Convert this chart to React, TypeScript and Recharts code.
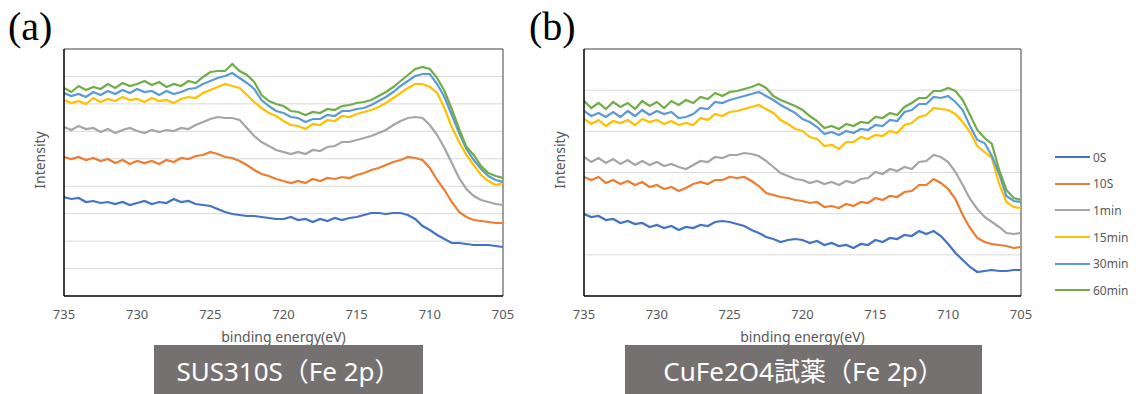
import React from 'react';
import { LineChart, Line, XAxis, YAxis, ReferenceLine, Legend } from 'recharts';

// binding energy (eV), categories along the x axis
const ENERGY = [
  735, 734.5, 734, 733.5, 733, 732.5, 732, 731.5, 731, 730.5,
  730, 729.5, 729, 728.5, 728, 727.5, 727, 726.5, 726, 725.5,
  725, 724.5, 724, 723.5, 723, 722.5, 722, 721.5, 721, 720.5,
  720, 719.5, 719, 718.5, 718, 717.5, 717, 716.5, 716, 715.5,
  715, 714.5, 714, 713.5, 713, 712.5, 712, 711.5, 711, 710.5,
  710, 709.5, 709, 708.5, 708, 707.5, 707, 706.5, 706, 705.5,
  705,
];

const SERIES_NAMES = ['0S', '10S', '1min', '15min', '30min', '60min'];
const SERIES_COLORS = ['#4472C4', '#ED7D31', '#A5A5A5', '#FFC000', '#5B9BD5', '#70AD47'];

const X_TICKS = [735, 730, 725, 720, 715, 710, 705];
const A_Y_TICKS = [0, 27.44, 54.89, 82.33, 109.78, 137.22, 164.67, 192.11, 219.56, 247];
const B_Y_TICKS = [0, 41.17, 82.33, 123.5, 164.67, 205.83, 247];
const Y_MAX = 247;

// (a) SUS310S (Fe 2p)
const A_0S = [
  99, 97, 98, 94, 95, 93, 94, 92, 94, 91,
  93, 95, 92, 94, 93, 97, 94, 95, 92, 91,
  90, 87, 84, 82, 81, 80, 80, 79, 78, 77,
  77, 79, 76, 77, 74, 77, 75, 78, 76, 78,
  79, 81, 83, 83, 82, 83, 83, 81, 77, 70,
  66, 61, 57, 53, 53, 52, 51, 51, 51, 50,
  49,
];
const A_10S = [
  139, 137, 139, 136, 138, 135, 137, 133, 136, 132,
  135, 133, 135, 132, 136, 134, 138, 137, 140, 141,
  144, 142, 139, 138, 135, 131, 126, 122, 120, 117,
  115, 113, 115, 113, 117, 115, 118, 117, 119, 118,
  121, 123, 126, 128, 131, 134, 136, 139, 138, 136,
  128, 116, 106, 94, 84, 79, 76, 75, 74, 73,
  73,
];
const A_1MIN = [
  169, 166, 170, 167, 168, 164, 167, 163, 166, 168,
  165, 163, 166, 164, 166, 165, 168, 167, 171, 174,
  177, 179, 178, 178, 176, 168, 160, 154, 150, 146,
  144, 142, 144, 142, 146, 145, 149, 150, 154, 154,
  156, 158, 160, 163, 166, 171, 175, 178, 179, 178,
  171, 161, 148, 133, 118, 107, 100, 96, 94, 92,
  91,
];
const A_15MIN = [
  196, 193, 195, 192, 198, 194, 197, 195, 199, 196,
  197, 194, 198, 195, 196, 193, 197, 199, 198, 203,
  206, 209, 212, 210, 208, 201, 194, 188, 183, 180,
  175, 171, 170, 167, 172, 171, 176, 175, 180, 179,
  182, 184, 186, 189, 193, 198, 203, 208, 212, 212,
  209, 203, 188, 169, 154, 141, 131, 121, 115, 111,
  113,
];
const A_30MIN = [
  203, 200, 202, 199, 204, 201, 205, 202, 206, 203,
  207, 204, 205, 201, 205, 202, 204, 207, 208, 212,
  215, 218, 220, 223, 218, 213, 207, 196, 190, 185,
  183, 179, 178, 174, 177, 177, 181, 180, 185, 185,
  187, 188, 191, 195, 199, 204, 210, 215, 220, 222,
  222, 212, 199, 181, 163, 147, 136, 127, 120, 116,
  114,
];
const A_60MIN = [
  208, 204, 210, 206, 209, 207, 212, 208, 213, 210,
  212, 215, 211, 214, 209, 212, 210, 215, 213, 219,
  224, 225, 225, 232, 225, 221, 214, 201, 195, 192,
  190, 185, 184, 181, 184, 183, 187, 186, 190, 191,
  193, 194, 196, 200, 204, 209, 215, 221, 227, 229,
  227, 218, 205, 187, 167, 149, 141, 130, 123, 120,
  118,
];

// (b) CuFe2O4 reagent (Fe 2p)
const B_0S = [
  82, 79, 80, 76, 77, 73, 75, 72, 73, 69,
  71, 68, 70, 66, 69, 68, 71, 70, 74, 75,
  74, 72, 70, 66, 63, 59, 57, 54, 56, 57,
  56, 53, 55, 51, 53, 50, 51, 48, 52, 51,
  56, 54, 58, 57, 61, 60, 65, 62, 65, 60,
  52, 43, 36, 29, 24, 25, 26, 25, 25, 26,
  26,
];
const B_10S = [
  119, 116, 119, 113, 116, 112, 115, 111, 114, 109,
  111, 107, 109, 105, 108, 112, 114, 112, 116, 116,
  119, 118, 119, 115, 110, 103, 101, 99, 98, 96,
  95, 93, 94, 89, 90, 88, 92, 90, 94, 93,
  98, 96, 100, 99, 104, 105, 111, 111, 117, 113,
  107, 97, 81, 68, 58, 54, 52, 51, 50, 48,
  49,
];
const B_1MIN = [
  139, 134, 138, 133, 137, 132, 136, 131, 135, 131,
  134, 130, 132, 129, 127, 131, 135, 134, 139, 138,
  141, 141, 143, 142, 140, 135, 129, 123, 120, 117,
  116, 113, 115, 112, 114, 111, 115, 113, 117, 118,
  124, 122, 127, 125, 129, 127, 134, 135, 141, 139,
  134, 124, 111, 97, 87, 79, 74, 69, 63, 62,
  63,
];
const B_15MIN = [
  177, 172, 176, 170, 175, 173, 176, 171, 177, 174,
  176, 172, 175, 171, 173, 171, 178, 176, 182, 180,
  184, 185, 187, 189, 191, 187, 183, 176, 172, 167,
  165, 159, 157, 150, 151, 147, 154, 154, 159, 157,
  161, 160, 165, 163, 171, 173, 179, 181, 188, 187,
  186, 182, 174, 164, 150, 144, 138, 112, 94, 89,
  88,
];
const B_30MIN = [
  185, 180, 183, 179, 184, 179, 185, 180, 186, 181,
  185, 182, 184, 178, 179, 182, 188, 187, 194, 193,
  196, 198, 200, 202, 204, 200, 196, 191, 187, 183,
  177, 174, 169, 162, 164, 161, 165, 163, 167, 166,
  171, 170, 176, 175, 184, 186, 192, 192, 199, 198,
  200, 194, 186, 170, 156, 153, 140, 122, 100, 95,
  94,
];
const B_60MIN = [
  195, 188, 193, 187, 194, 189, 193, 187, 195, 190,
  194, 188, 195, 191, 196, 193, 199, 197, 203, 200,
  204, 205, 207, 209, 212, 208, 200, 196, 193, 190,
  186, 180, 175, 168, 170, 167, 172, 170, 174, 173,
  179, 178, 183, 181, 189, 193, 198, 198, 205, 205,
  208, 205, 196, 181, 166, 158, 152, 126, 106, 98,
  96,
];

const buildRows = (series: number[][]) =>
  ENERGY.map((e, i) => {
    const row: Record<string, number> = { e };
    series.forEach((s, k) => {
      row['s' + k] = s[i];
    });
    return row;
  });

const DATA_A = buildRows([A_0S, A_10S, A_1MIN, A_15MIN, A_30MIN, A_60MIN]);
const DATA_B = buildRows([B_0S, B_10S, B_1MIN, B_15MIN, B_30MIN, B_60MIN]);

const FONT = '"Noto Sans", "Noto Sans CJK JP", sans-serif';
const TEXT_GRAY = '#595959';

const renderLegend = () => (
  <div style={{ fontFamily: FONT }}>
    {SERIES_NAMES.map((name, k) => (
      <div key={name} style={{ display: 'flex', alignItems: 'center', height: 26.6 }}>
        <span style={{ display: 'inline-block', width: 35, height: 2, background: SERIES_COLORS[k], marginRight: 3 }} />
        <span style={{ fontSize: 12, color: TEXT_GRAY }}>{name}</span>
      </div>
    ))}
  </div>
);

type PanelProps = {
  data: Record<string, number>[];
  yTicks: number[];
  width: number;
  marginRight: number;
  withLegend?: boolean;
};

function Panel({ data, yTicks, width, marginRight, withLegend }: PanelProps) {
  return (
    <LineChart width={width} height={394} data={data} margin={{ top: 49, right: marginRight, bottom: 48, left: 4 }}>
      {yTicks.slice(1, -1).map((v) => (
        <ReferenceLine key={v} xAxisId="bottom" yAxisId="left" y={v} stroke="#d9d9d9" strokeWidth={1} />
      ))}
      <ReferenceLine xAxisId="bottom" yAxisId="left" y={Y_MAX} stroke="#404040" strokeWidth={1} />
      <ReferenceLine xAxisId="bottom" yAxisId="left" x={705} stroke="#404040" strokeWidth={1} />
      <XAxis
        xAxisId="bottom"
        dataKey="e"
        type="number"
        domain={[705, 735]}
        reversed
        ticks={X_TICKS}
        interval={0}
        allowDataOverflow
        tickLine={false}
        axisLine
        stroke="#000"
        strokeWidth={1.5}
        tick={{ fill: TEXT_GRAY, fontSize: 13, fontFamily: FONT }}
        tickMargin={8}
        height={50}
        label={{ value: 'binding energy(eV)', position: 'insideBottom', offset: 4, fill: TEXT_GRAY, fontSize: 14, fontFamily: FONT }}
      />
      <YAxis
        yAxisId="left"
        type="number"
        domain={[0, Y_MAX]}
        ticks={yTicks}
        interval={0}
        allowDataOverflow
        tick={false}
        tickLine={false}
        axisLine
        stroke="#000"
        strokeWidth={1.5}
        width={60}
      />
      {SERIES_NAMES.map((name, k) => (
        <Line
          key={name}
          xAxisId="bottom"
          yAxisId="left"
          type="linear"
          dataKey={'s' + k}
          name={name}
          stroke={SERIES_COLORS[k]}
          strokeWidth={2.2}
          dot={false}
          activeDot={false}
          isAnimationActive={false}
        />
      ))}
      {withLegend && (
        <Legend
          layout="horizontal"
          verticalAlign="middle"
          align="center"
          content={renderLegend}
          wrapperStyle={{ left: 535, top: 144, width: 90, height: 165 }}
        />
      )}
    </LineChart>
  );
}

const vLabel = (left: number): React.CSSProperties => ({
  position: 'absolute',
  left: left - 40,
  top: 160 - 10,
  width: 80,
  height: 20,
  lineHeight: '20px',
  textAlign: 'center',
  transform: 'rotate(-90deg)',
  fontSize: 14,
  color: TEXT_GRAY,
  fontFamily: FONT,
});

const panelTag = (left: number): React.CSSProperties => ({
  position: 'absolute',
  left,
  top: 7,
  fontSize: 40,
  lineHeight: '40px',
  fontFamily: '"Liberation Serif", "Times New Roman", serif',
  color: '#000',
});

const captionBox = (left: number, width: number): React.CSSProperties => ({
  position: 'absolute',
  left,
  top: 345,
  width,
  height: 49,
  background: '#767171',
  color: '#fff',
  fontSize: 26,
  fontFamily: FONT,
  display: 'flex',
  alignItems: 'center',
  justifyContent: 'center',
  whiteSpace: 'nowrap',
});

export default function App() {
  return (
    <div style={{ position: 'absolute', left: 0, top: 0, width: 1143, height: 394, background: '#fff', overflow: 'hidden' }}>
      <div style={{ position: 'absolute', left: 0, top: 0 }}>
        <Panel data={DATA_A} yTicks={A_Y_TICKS} width={520} marginRight={17} />
      </div>
      <div style={{ position: 'absolute', left: 520, top: 0 }}>
        <Panel data={DATA_B} yTicks={B_Y_TICKS} width={623} marginRight={122} withLegend />
      </div>
      <div style={panelTag(8)}>(a)</div>
      <div style={panelTag(529)}>(b)</div>
      <div style={vLabel(40)}>Intensity</div>
      <div style={vLabel(560)}>Intensity</div>
      <div style={captionBox(154, 269)}>SUS310S（Fe 2p）</div>
      <div style={captionBox(625, 357)}>CuFe2O4試薬（Fe 2p）</div>
    </div>
  );
}
